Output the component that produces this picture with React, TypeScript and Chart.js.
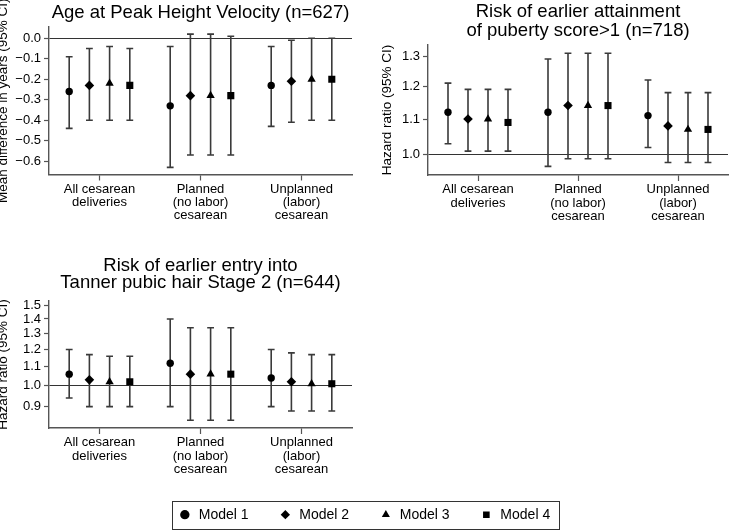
import React, { useEffect, useRef } from 'react';
import { Chart, registerables } from 'chart.js';

Chart.register(...registerables);

// ---------- data ----------
const CATEGORIES: string[][] = [
  ['All cesarean', 'deliveries'],
  ['Planned', '(no labor)', 'cesarean'],
  ['Unplanned', '(labor)', 'cesarean'],
];
const MODELS = ['Model 1', 'Model 2', 'Model 3', 'Model 4'];
const MODEL_STYLES = ['circle', 'rectRot', 'triangle', 'rect'];

// Panel 1: Age at Peak Height Velocity (rows = models, columns = categories)
const PHV_EST = [
  [-0.26, -0.33, -0.23],
  [-0.23, -0.28, -0.21],
  [-0.22, -0.28, -0.2],
  [-0.23, -0.28, -0.2],
];
const PHV_LO = [
  [-0.44, -0.63, -0.43],
  [-0.4, -0.57, -0.41],
  [-0.4, -0.57, -0.4],
  [-0.4, -0.57, -0.4],
];
const PHV_HI = [
  [-0.09, -0.04, -0.04],
  [-0.05, 0.02, -0.01],
  [-0.04, 0.02, 0.0],
  [-0.05, 0.01, 0.0],
];
const PHV_TICKS = [0, -0.1, -0.2, -0.3, -0.4, -0.5, -0.6];

// Panel 2: puberty score > 1
const PUB_EST = [
  [1.12, 1.12, 1.11],
  [1.1, 1.14, 1.08],
  [1.1, 1.14, 1.07],
  [1.09, 1.14, 1.07],
];
const PUB_LO = [
  [1.03, 0.97, 1.02],
  [1.01, 0.99, 0.98],
  [1.01, 0.99, 0.98],
  [1.01, 0.99, 0.98],
];
const PUB_HI = [
  [1.21, 1.29, 1.22],
  [1.19, 1.31, 1.18],
  [1.19, 1.31, 1.18],
  [1.19, 1.31, 1.18],
];
const PUB_TICKS = [1.0, 1.1, 1.2, 1.3];

// Panel 3: Tanner pubic hair stage 2
const PH_EST = [
  [1.06, 1.12, 1.04],
  [1.03, 1.06, 1.02],
  [1.02, 1.06, 1.01],
  [1.02, 1.06, 1.01],
];
const PH_LO = [
  [0.94, 0.9, 0.9],
  [0.9, 0.84, 0.88],
  [0.9, 0.84, 0.88],
  [0.9, 0.84, 0.88],
];
const PH_HI = [
  [1.2, 1.4, 1.2],
  [1.17, 1.34, 1.18],
  [1.16, 1.34, 1.17],
  [1.16, 1.34, 1.17],
];
const PH_TICKS = [0.9, 1.0, 1.1, 1.2, 1.3, 1.4, 1.5];

// ---------- styling ----------
const MODEL_OFFSETS = [-0.3, -0.1, 0.1, 0.3];
const MODEL_RADII = [3.7, 4.8, 4.8, 5.0];
const FONT = '"Liberation Sans", Arial, Helvetica, sans-serif';
const AXIS_COLOR = '#555';
const BAR_COLOR = '#3a3a3a';

Chart.defaults.font.family = FONT;
Chart.defaults.color = '#000';

const errorBarPlugin = {
  id: 'errorBars',
  beforeDatasetsDraw(chart: any) {
    const { ctx } = chart;
    const xs = chart.scales.x;
    const ys = chart.scales.y;
    ctx.save();
    ctx.strokeStyle = BAR_COLOR;
    ctx.lineWidth = 1.6;
    const cap = 3.4;
    chart.data.datasets.forEach((ds: any) => {
      ds.data.forEach((p: any) => {
        const px = xs.getPixelForValue(p.x);
        const yl = ys.getPixelForValue(p.lo);
        const yh = ys.getPixelForValue(p.hi);
        ctx.beginPath();
        ctx.moveTo(px, yl);
        ctx.lineTo(px, yh);
        ctx.moveTo(px - cap, yl);
        ctx.lineTo(px + cap, yl);
        ctx.moveTo(px - cap, yh);
        ctx.lineTo(px + cap, yh);
        ctx.stroke();
      });
    });
    ctx.restore();
  },
};

interface PanelSpec {
  title: string[];
  titleLH: number;
  titlePadTop: number;
  titlePadBottom: number;
  yTitle: string;
  yTitlePad: number;
  yType: string;
  yMin: number;
  yMax: number;
  yTicks: number[];
  refValue: number;
  est: number[][];
  lo: number[][];
  hi: number[][];
  yWidth: number;
  xHeight: number;
  padRight: number;
  fmt: (v: number) => string;
}

function panelConfig(p: PanelSpec): any {
  return {
    type: 'scatter',
    data: {
      datasets: MODELS.map((m, mi) => ({
        label: m,
        data: CATEGORIES.map((_, ci) => ({
          x: ci + 1 + MODEL_OFFSETS[mi],
          y: p.est[mi][ci],
          lo: p.lo[mi][ci],
          hi: p.hi[mi][ci],
        })),
        pointStyle: MODEL_STYLES[mi],
        pointRadius: MODEL_RADII[mi],
        pointHoverRadius: MODEL_RADII[mi],
        backgroundColor: '#000',
        borderColor: '#000',
        borderWidth: 0,
      })),
    },
    options: {
      responsive: false,
      animation: false,
      events: [],
      layout: { padding: { left: 0, right: p.padRight, top: 0, bottom: 0 } },
      plugins: {
        legend: { display: false },
        tooltip: { enabled: false },
        title: {
          display: true,
          text: p.title,
          fullSize: false,
          color: '#000',
          font: { family: FONT, size: 18.5, weight: 'normal', lineHeight: p.titleLH + 'px' },
          padding: { top: p.titlePadTop, bottom: p.titlePadBottom },
        },
      },
      scales: {
        x: {
          type: 'linear',
          min: 0.5,
          max: 3.5,
          afterBuildTicks: (s: any) => {
            s.ticks = CATEGORIES.map((_, i) => ({ value: i + 1 }));
          },
          afterFit: (s: any) => {
            s.height = p.xHeight;
          },
          ticks: {
            autoSkip: false,
            maxRotation: 0,
            padding: 2,
            color: '#000',
            font: { family: FONT, size: 13, lineHeight: '13.3px' },
            callback: (v: any) => CATEGORIES[Math.round(v) - 1],
          },
          grid: { drawOnChartArea: false, drawTicks: true, tickLength: 6, tickColor: AXIS_COLOR, tickWidth: 1.2 },
          border: { display: true, color: AXIS_COLOR, width: 1.4 },
        },
        y: {
          type: p.yType,
          min: p.yMin,
          max: p.yMax,
          afterBuildTicks: (s: any) => {
            s.ticks = p.yTicks.map((v) => ({ value: v }));
          },
          afterFit: (s: any) => {
            s.width = p.yWidth;
          },
          ticks: {
            autoSkip: false,
            padding: 3,
            color: '#000',
            font: { family: FONT, size: 13 },
            callback: (v: any) => p.fmt(Number(v)),
          },
          grid: {
            drawOnChartArea: true,
            drawTicks: true,
            tickLength: 5,
            tickColor: AXIS_COLOR,
            tickWidth: 1.2,
            lineWidth: 1,
            color: (c: any) =>
              c.tick && Math.abs(c.tick.value - p.refValue) < 1e-9 ? '#333' : 'rgba(0,0,0,0)',
          },
          border: { display: true, color: AXIS_COLOR, width: 1.4 },
          title: {
            display: true,
            text: p.yTitle,
            color: '#000',
            font: { family: FONT, size: 13.5, lineHeight: 1.2 },
            padding: { top: p.yTitlePad, bottom: 0 },
          },
        },
      },
    },
    plugins: [errorBarPlugin],
  };
}

const fmtSigned = (v: number) => {
  const s = Math.abs(v).toFixed(1);
  return v < -1e-9 ? '\u2212' + s : s;
};
const fmtPlain = (v: number) => v.toFixed(1);

const legendFramePlugin = {
  id: 'legendFrame',
  afterDraw(chart: any) {
    const boxes = chart.legend && chart.legend.legendHitBoxes;
    if (!boxes || !boxes.length) return;
    const first = boxes[0];
    const last = boxes[boxes.length - 1];
    const cy = first.top + first.height / 2;
    const { ctx } = chart;
    ctx.save();
    ctx.strokeStyle = '#333';
    ctx.lineWidth = 1;
    const left = Math.round(first.left - 6) + 0.5;
    const right = Math.round(last.left + last.width + 9) + 0.5;
    const top = Math.round(cy - 14) + 0.5;
    const bottom = Math.round(cy + 14) + 0.5;
    ctx.strokeRect(left, top, right - left, bottom - top);
    ctx.restore();
  },
};

function legendConfig(): any {
  return {
    type: 'scatter',
    data: {
      datasets: MODELS.map((m, mi) => ({
        label: m,
        data: [],
        pointStyle: MODEL_STYLES[mi],
        backgroundColor: '#000',
        borderColor: '#000',
        borderWidth: 0,
      })),
    },
    options: {
      responsive: false,
      animation: false,
      events: [],
      layout: { padding: { left: 0, right: 5, top: 0, bottom: 0 } },
      scales: { x: { display: false }, y: { display: false } },
      plugins: {
        tooltip: { enabled: false },
        title: { display: false },
        legend: {
          display: true,
          position: 'top',
          align: 'center',
          labels: {
            usePointStyle: true,
            boxWidth: 14,
            boxHeight: 6.6,
            padding: 29.7,
            color: '#000',
            font: { family: FONT, size: 14 },
          },
        },
      },
    },
    plugins: [legendFramePlugin],
  };
}

export default function App() {
  const r1 = useRef<HTMLCanvasElement>(null);
  const r2 = useRef<HTMLCanvasElement>(null);
  const r3 = useRef<HTMLCanvasElement>(null);
  const r4 = useRef<HTMLCanvasElement>(null);

  useEffect(() => {
    const charts: Chart[] = [];
    charts.push(
      new Chart(
        r1.current as HTMLCanvasElement,
        panelConfig({
          title: ['Age at Peak Height Velocity (n=627)'],
          titleLH: 19,
          titlePadTop: 3.8,
          titlePadBottom: 4.2,
          yTitle: 'Mean difference in years (95% CI)',
          yTitlePad: 0,
          yType: 'linear',
          yMin: -0.665,
          yMax: 0.055,
          yTicks: PHV_TICKS,
          refValue: 0,
          est: PHV_EST,
          lo: PHV_LO,
          hi: PHV_HI,
          yWidth: 54,
          xHeight: 75.5,
          padRight: 14,
          fmt: fmtSigned,
        })
      )
    );
    charts.push(
      new Chart(
        r2.current as HTMLCanvasElement,
        panelConfig({
          title: ['Risk of earlier attainment', 'of puberty score>1 (n=718)'],
          titleLH: 19,
          titlePadTop: 2.8,
          titlePadBottom: 4.2,
          yTitle: 'Hazard ratio (95% CI)',
          yTitlePad: 1,
          yType: 'logarithmic',
          yMin: 0.948,
          yMax: 1.339,
          yTicks: PUB_TICKS,
          refValue: 1,
          est: PUB_EST,
          lo: PUB_LO,
          hi: PUB_HI,
          yWidth: 50,
          xHeight: 75,
          padRight: 1,
          fmt: fmtPlain,
        })
      )
    );
    charts.push(
      new Chart(
        r3.current as HTMLCanvasElement,
        panelConfig({
          title: ['Risk of earlier entry into', 'Tanner pubic hair Stage 2 (n=644)'],
          titleLH: 17.5,
          titlePadTop: 7,
          titlePadBottom: 9,
          yTitle: 'Hazard ratio (95% CI)',
          yTitlePad: 0,
          yType: 'logarithmic',
          yMin: 0.808,
          yMax: 1.533,
          yTicks: PH_TICKS,
          refValue: 1,
          est: PH_EST,
          lo: PH_LO,
          hi: PH_HI,
          yWidth: 54,
          xHeight: 52,
          padRight: 14,
          fmt: fmtPlain,
        })
      )
    );
    charts.push(new Chart(r4.current as HTMLCanvasElement, legendConfig()));
    return () => charts.forEach((c) => c.destroy());
  }, []);

  const cv = (left: number, top: number, w: number, h: number): React.CSSProperties => ({
    position: 'absolute',
    left,
    top,
    width: w,
    height: h,
  });

  return (
    <div
      style={{
        position: 'absolute',
        left: 0,
        top: 0,
        width: 733,
        height: 530,
        overflow: 'hidden',
        background: '#fff',
      }}
    >
      <canvas ref={r1} width={371} height={250} style={cv(-5, 0, 371, 250)} />
      <canvas ref={r2} width={355} height={250} style={cv(378, 0, 355, 250)} />
      <canvas ref={r3} width={371} height={230} style={cv(-5, 250, 371, 230)} />
      <canvas ref={r4} width={733} height={120} style={cv(0, 478, 733, 120)} />
    </div>
  );
}
